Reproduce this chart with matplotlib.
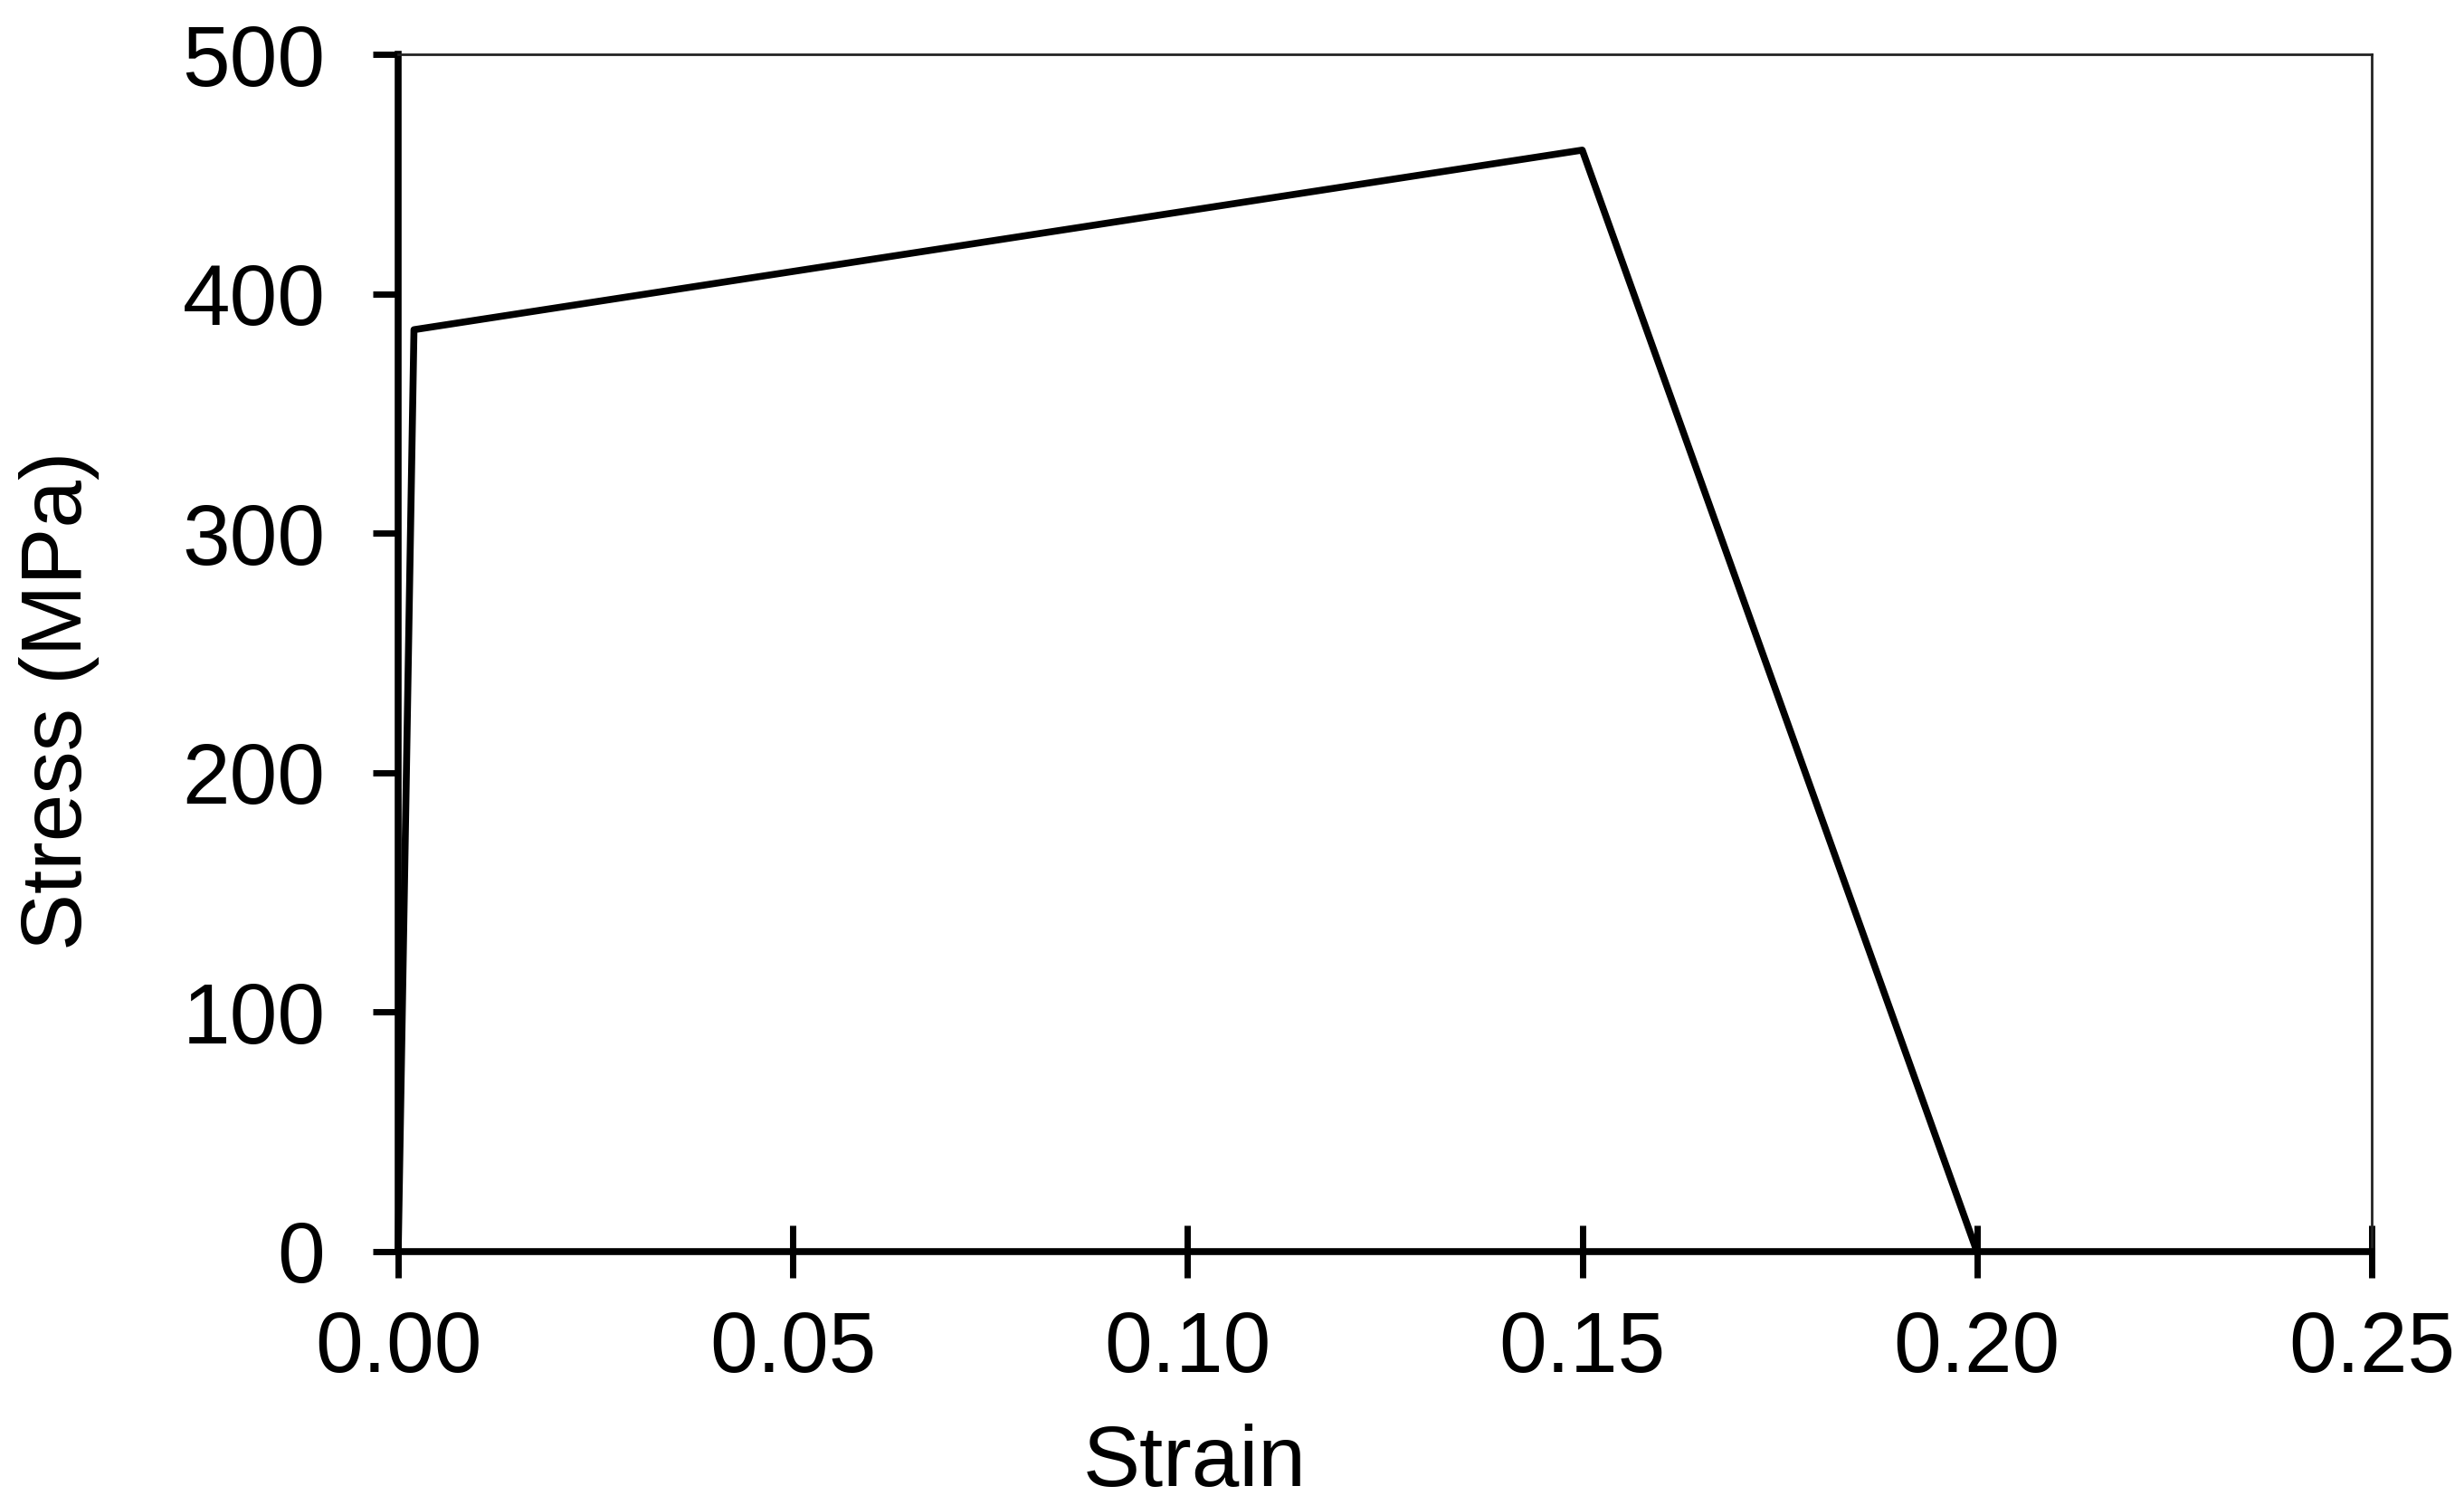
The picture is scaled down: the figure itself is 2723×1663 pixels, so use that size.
import matplotlib
matplotlib.use("Agg")
import matplotlib.pyplot as plt

# stress-strain curve
strain = [0.0, 0.002, 0.15, 0.20]
stress = [0, 385, 460, 0]

x_ticks = [0.00, 0.05, 0.10, 0.15, 0.20, 0.25]
y_ticks = [0, 100, 200, 300, 400, 500]

plt.rcParams['font.family'] = ['Liberation Sans', 'DejaVu Sans']

fig = plt.figure(figsize=(27.23, 16.63), dpi=100)
ax = fig.add_axes([0.1616, 0.1684, 0.8009, 0.7955])

ax.plot(strain, stress, color='black', linewidth=5.5, clip_on=False, zorder=3)

ax.set_xlim(0, 0.25)
ax.set_ylim(0, 500)
ax.set_xticks(x_ticks)
ax.set_xticklabels([f"{v:.2f}" for v in x_ticks])
ax.set_yticks(y_ticks)

for side in ['left', 'bottom']:
    ax.spines[side].set_linewidth(5.5)
    ax.spines[side].set_color('black')
for side in ['top', 'right']:
    ax.spines[side].set_linewidth(2)
    ax.spines[side].set_color('#222222')

ax.tick_params(axis='x', direction='inout', length=42, width=5,
               labelsize=68, pad=25)
ax.tick_params(axis='y', direction='out', length=20, width=5,
               labelsize=68, pad=38)

# labels in the reference sit off-centre
ax.set_xlabel('Strain', fontsize=68, labelpad=27, x=0.4035)
ax.set_ylabel('Stress (MPa)', fontsize=68, labelpad=66, y=0.46)

fig.savefig('out.png', dpi=100)
